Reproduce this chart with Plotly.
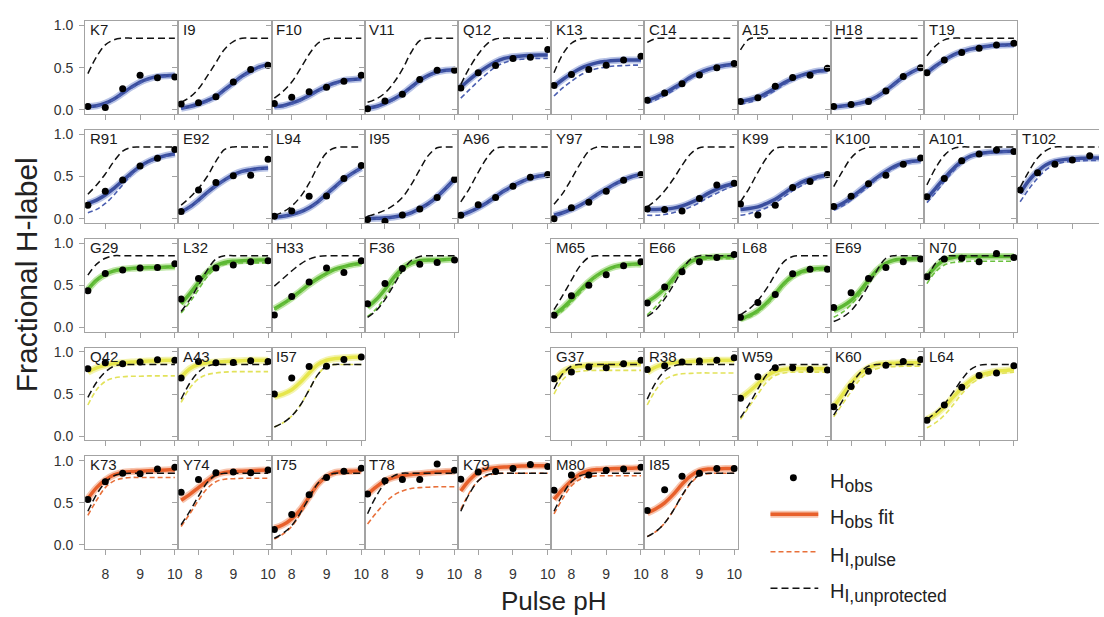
import plotly.graph_objects as go

# ---------------- data ----------------
PH_OBS = [7.5, 8.0, 8.5, 9.0, 9.5, 10.0]
PH_FIT = [7.5, 7.75, 8.0, 8.25, 8.5, 8.75, 9.0, 9.25, 9.5, 9.75, 10.0]

PANEL_ROWS = [
    ["K7", "I9", "F10", "V11", "Q12", "K13", "C14", "A15", "H18", "T19"],
    ["R91", "E92", "L94", "I95", "A96", "Y97", "L98", "K99", "K100", "A101", "T102"],
    ["G29", "L32", "H33", "F36", None, "M65", "E66", "L68", "E69", "N70"],
    ["Q42", "A43", "I57", None, None, "G37", "R38", "W59", "K60", "L64"],
    ["K73", "Y74", "I75", "T78", "K79", "M80", "I85"],
]
ROW_GROUP = ["blue", "blue", "green", "yellow", "orange"]

RESIDUES = ["K7", "I9", "F10", "V11", "Q12", "K13", "C14", "A15", "H18", "T19",
            "R91", "E92", "L94", "I95", "A96", "Y97", "L98", "K99", "K100", "A101", "T102",
            "G29", "L32", "H33", "F36", "M65", "E66", "L68", "E69", "N70",
            "Q42", "A43", "I57", "G37", "R38", "W59", "K60", "L64",
            "K73", "Y74", "I75", "T78", "K79", "M80", "I85"]

H_OBS = [
    [0.04, 0.03, 0.25, 0.41, 0.38, 0.39],
    [0.07, 0.085, 0.155, 0.33, 0.48, 0.53],
    [0.075, 0.15, 0.215, 0.27, 0.34, 0.41],
    [0.015, 0.105, 0.185, 0.36, 0.47, 0.47],
    [0.26, 0.44, 0.525, 0.61, 0.625, 0.715],
    [0.29, 0.42, 0.48, 0.53, 0.59, 0.635],
    [0.115, 0.2, 0.31, 0.415, 0.5, 0.55],
    [0.10, 0.145, 0.28, 0.385, 0.41, 0.495],
    [0.04, 0.065, 0.10, 0.225, 0.395, 0.50],
    [0.44, 0.59, 0.68, 0.73, 0.77, 0.79],
    [0.16, 0.325, 0.457, 0.624, 0.717, 0.82],
    [0.085, 0.34, 0.43, 0.51, 0.515, 0.705],
    [0.03, 0.09, 0.265, 0.27, 0.475, 0.63],
    [-0.01, -0.03, 0.045, 0.115, 0.25, 0.465],
    [0.04, 0.165, 0.25, 0.385, 0.49, 0.525],
    [0.0, 0.13, 0.195, 0.325, 0.455, 0.525],
    [0.115, 0.11, 0.09, 0.24, 0.40, 0.42],
    [0.175, 0.045, 0.16, 0.37, 0.44, 0.525],
    [0.145, 0.265, 0.415, 0.515, 0.645, 0.72],
    [0.26, 0.475, 0.685, 0.765, 0.815, 0.795],
    [0.34, 0.545, 0.645, 0.695, 0.745, 0.75],
    [0.435, 0.64, 0.68, 0.705, 0.71, 0.755],
    [0.337, 0.58, 0.705, 0.74, 0.78, 0.79],
    [0.147, 0.368, 0.54, 0.705, 0.65, 0.79],
    [0.28, 0.52, 0.70, 0.75, 0.77, 0.80],
    [0.145, 0.375, 0.50, 0.625, 0.73, 0.78],
    [0.29, 0.48, 0.66, 0.78, 0.83, 0.865],
    [0.12, 0.295, 0.39, 0.635, 0.69, 0.69],
    [0.235, 0.41, 0.58, 0.71, 0.78, 0.81],
    [0.60, 0.81, 0.82, 0.78, 0.875, 0.83],
    [0.80, 0.87, 0.86, 0.88, 0.905, 0.90],
    [0.69, 0.885, 0.87, 0.875, 0.895, 0.885],
    [0.50, 0.69, 0.825, 0.83, 0.91, 0.94],
    [0.68, 0.76, 0.82, 0.81, 0.86, 0.90],
    [0.79, 0.835, 0.88, 0.89, 0.90, 0.93],
    [0.45, 0.705, 0.81, 0.81, 0.79, 0.785],
    [0.35, 0.59, 0.77, 0.84, 0.885, 0.91],
    [0.19, 0.37, 0.58, 0.72, 0.75, 0.835],
    [0.54, 0.75, 0.85, 0.845, 0.90, 0.92],
    [0.625, 0.775, 0.855, 0.865, 0.855, 0.89],
    [0.185, 0.36, 0.595, 0.80, 0.875, 0.91],
    [0.605, 0.76, 0.775, 0.775, 0.96, 0.885],
    [0.78, 0.865, 0.87, 0.905, 0.955, 0.93],
    [0.65, 0.83, 0.83, 0.885, 0.90, 0.92],
    [0.41, 0.655, 0.815, 0.85, 0.905, 0.905],
]

H_FIT = [
    [0.04, 0.05, 0.08, 0.13, 0.20, 0.27, 0.33, 0.37, 0.395, 0.405, 0.41],
    [0.02, 0.04, 0.07, 0.11, 0.16, 0.24, 0.32, 0.40, 0.46, 0.51, 0.54],
    [0.04, 0.05, 0.08, 0.12, 0.17, 0.23, 0.28, 0.32, 0.35, 0.36, 0.37],
    [0.02, 0.04, 0.08, 0.13, 0.19, 0.27, 0.35, 0.41, 0.45, 0.47, 0.475],
    [0.27, 0.36, 0.44, 0.51, 0.57, 0.61, 0.63, 0.64, 0.645, 0.65, 0.65],
    [0.28, 0.36, 0.43, 0.49, 0.53, 0.56, 0.575, 0.585, 0.59, 0.59, 0.59],
    [0.11, 0.15, 0.20, 0.26, 0.32, 0.39, 0.44, 0.48, 0.51, 0.53, 0.54],
    [0.10, 0.12, 0.15, 0.20, 0.26, 0.32, 0.37, 0.41, 0.44, 0.46, 0.47],
    [0.035, 0.045, 0.06, 0.08, 0.11, 0.16, 0.23, 0.31, 0.39, 0.45, 0.50],
    [0.44, 0.52, 0.59, 0.65, 0.69, 0.72, 0.74, 0.755, 0.765, 0.77, 0.775],
    [0.18, 0.22, 0.28, 0.36, 0.45, 0.54, 0.62, 0.68, 0.72, 0.75, 0.77],
    [0.08, 0.14, 0.22, 0.31, 0.39, 0.46, 0.52, 0.56, 0.58, 0.595, 0.60],
    [0.02, 0.03, 0.05, 0.08, 0.13, 0.20, 0.29, 0.38, 0.47, 0.54, 0.60],
    [0.0, 0.005, 0.01, 0.02, 0.04, 0.07, 0.12, 0.18, 0.26, 0.36, 0.47],
    [0.04, 0.08, 0.13, 0.19, 0.26, 0.33, 0.39, 0.44, 0.48, 0.505, 0.52],
    [0.04, 0.07, 0.11, 0.16, 0.22, 0.29, 0.35, 0.41, 0.46, 0.50, 0.52],
    [0.11, 0.11, 0.115, 0.125, 0.15, 0.19, 0.24, 0.30, 0.35, 0.39, 0.42],
    [0.11, 0.12, 0.14, 0.18, 0.23, 0.30, 0.37, 0.43, 0.47, 0.50, 0.52],
    [0.13, 0.18, 0.25, 0.33, 0.41, 0.49, 0.56, 0.62, 0.66, 0.68, 0.69],
    [0.24, 0.36, 0.48, 0.59, 0.68, 0.74, 0.77, 0.785, 0.79, 0.795, 0.80],
    [0.30, 0.45, 0.56, 0.64, 0.68, 0.70, 0.71, 0.715, 0.72, 0.72, 0.72],
    [0.45, 0.56, 0.63, 0.67, 0.69, 0.70, 0.705, 0.71, 0.71, 0.715, 0.72],
    [0.28, 0.40, 0.53, 0.65, 0.73, 0.77, 0.785, 0.79, 0.795, 0.80, 0.80],
    [0.22, 0.28, 0.35, 0.43, 0.51, 0.58, 0.64, 0.69, 0.72, 0.745, 0.76],
    [0.24, 0.33, 0.45, 0.59, 0.70, 0.76, 0.79, 0.80, 0.80, 0.805, 0.81],
    [0.15, 0.23, 0.33, 0.44, 0.54, 0.62, 0.68, 0.72, 0.74, 0.75, 0.75],
    [0.30, 0.37, 0.46, 0.58, 0.70, 0.78, 0.82, 0.83, 0.835, 0.84, 0.84],
    [0.10, 0.14, 0.20, 0.29, 0.40, 0.52, 0.61, 0.66, 0.69, 0.70, 0.70],
    [0.20, 0.25, 0.32, 0.43, 0.56, 0.68, 0.76, 0.80, 0.81, 0.815, 0.82],
    [0.60, 0.72, 0.80, 0.83, 0.84, 0.84, 0.84, 0.84, 0.84, 0.84, 0.84],
    [0.76, 0.81, 0.84, 0.86, 0.87, 0.88, 0.885, 0.89, 0.895, 0.90, 0.90],
    [0.70, 0.80, 0.85, 0.87, 0.88, 0.885, 0.89, 0.895, 0.90, 0.90, 0.90],
    [0.47, 0.50, 0.55, 0.64, 0.75, 0.85, 0.90, 0.92, 0.93, 0.935, 0.94],
    [0.65, 0.76, 0.81, 0.83, 0.84, 0.845, 0.85, 0.85, 0.855, 0.86, 0.86],
    [0.76, 0.82, 0.855, 0.87, 0.88, 0.885, 0.89, 0.895, 0.90, 0.90, 0.90],
    [0.45, 0.53, 0.62, 0.71, 0.77, 0.79, 0.80, 0.80, 0.80, 0.80, 0.80],
    [0.35, 0.49, 0.63, 0.74, 0.81, 0.85, 0.86, 0.865, 0.87, 0.87, 0.87],
    [0.20, 0.26, 0.35, 0.46, 0.57, 0.66, 0.72, 0.75, 0.77, 0.78, 0.79],
    [0.55, 0.68, 0.77, 0.83, 0.86, 0.87, 0.875, 0.88, 0.885, 0.89, 0.89],
    [0.53, 0.60, 0.68, 0.76, 0.83, 0.86, 0.87, 0.875, 0.88, 0.885, 0.89],
    [0.20, 0.24, 0.31, 0.42, 0.57, 0.72, 0.81, 0.86, 0.87, 0.875, 0.88],
    [0.60, 0.69, 0.76, 0.80, 0.82, 0.835, 0.845, 0.855, 0.865, 0.87, 0.875],
    [0.64, 0.77, 0.86, 0.90, 0.915, 0.925, 0.93, 0.935, 0.94, 0.94, 0.94],
    [0.54, 0.66, 0.76, 0.84, 0.88, 0.895, 0.90, 0.905, 0.91, 0.91, 0.915],
    [0.38, 0.43, 0.50, 0.60, 0.72, 0.82, 0.88, 0.90, 0.90, 0.905, 0.905],
]

H_PULSE = [
    [0.035, 0.045, 0.075, 0.125, 0.19, 0.26, 0.32, 0.36, 0.385, 0.395, 0.40],
    [0.015, 0.035, 0.06, 0.10, 0.15, 0.23, 0.31, 0.39, 0.45, 0.50, 0.53],
    [0.03, 0.04, 0.07, 0.11, 0.16, 0.22, 0.27, 0.31, 0.34, 0.355, 0.365],
    [0.015, 0.035, 0.07, 0.12, 0.18, 0.26, 0.34, 0.40, 0.44, 0.46, 0.47],
    [0.14, 0.24, 0.34, 0.43, 0.51, 0.56, 0.59, 0.60, 0.61, 0.61, 0.61],
    [0.165, 0.26, 0.34, 0.41, 0.46, 0.49, 0.51, 0.52, 0.525, 0.53, 0.53],
    [0.08, 0.12, 0.17, 0.23, 0.30, 0.37, 0.43, 0.47, 0.50, 0.52, 0.53],
    [0.07, 0.09, 0.12, 0.17, 0.23, 0.30, 0.35, 0.40, 0.43, 0.45, 0.46],
    [0.03, 0.04, 0.055, 0.075, 0.105, 0.155, 0.225, 0.305, 0.385, 0.445, 0.495],
    [0.43, 0.51, 0.58, 0.64, 0.68, 0.71, 0.73, 0.745, 0.755, 0.76, 0.765],
    [0.07, 0.11, 0.18, 0.28, 0.40, 0.52, 0.61, 0.67, 0.71, 0.74, 0.76],
    [0.075, 0.135, 0.215, 0.305, 0.385, 0.455, 0.515, 0.555, 0.575, 0.59, 0.595],
    [0.015, 0.025, 0.045, 0.075, 0.125, 0.195, 0.285, 0.375, 0.465, 0.535, 0.595],
    [-0.005, 0.0, 0.005, 0.015, 0.035, 0.065, 0.115, 0.175, 0.255, 0.355, 0.465],
    [0.035, 0.075, 0.125, 0.185, 0.255, 0.325, 0.385, 0.435, 0.475, 0.50, 0.515],
    [0.035, 0.065, 0.105, 0.155, 0.215, 0.285, 0.345, 0.405, 0.455, 0.495, 0.515],
    [0.04, 0.04, 0.05, 0.07, 0.10, 0.14, 0.19, 0.25, 0.30, 0.35, 0.39],
    [0.04, 0.06, 0.09, 0.13, 0.19, 0.26, 0.33, 0.39, 0.44, 0.48, 0.50],
    [0.10, 0.15, 0.22, 0.30, 0.38, 0.47, 0.54, 0.60, 0.64, 0.67, 0.68],
    [0.19, 0.31, 0.44, 0.56, 0.66, 0.73, 0.76, 0.775, 0.785, 0.79, 0.79],
    [0.20, 0.35, 0.48, 0.58, 0.64, 0.67, 0.68, 0.685, 0.69, 0.69, 0.69],
    [0.44, 0.55, 0.62, 0.66, 0.68, 0.69, 0.695, 0.70, 0.70, 0.705, 0.71],
    [0.17, 0.30, 0.45, 0.60, 0.70, 0.745, 0.76, 0.765, 0.765, 0.765, 0.765],
    [0.21, 0.27, 0.34, 0.42, 0.50, 0.57, 0.63, 0.68, 0.71, 0.735, 0.75],
    [0.13, 0.22, 0.36, 0.53, 0.67, 0.75, 0.78, 0.79, 0.795, 0.80, 0.80],
    [0.12, 0.20, 0.30, 0.41, 0.52, 0.61, 0.67, 0.71, 0.73, 0.74, 0.74],
    [0.15, 0.25, 0.38, 0.55, 0.69, 0.77, 0.80, 0.81, 0.815, 0.815, 0.815],
    [0.08, 0.12, 0.18, 0.27, 0.38, 0.50, 0.59, 0.64, 0.67, 0.68, 0.68],
    [0.12, 0.18, 0.27, 0.39, 0.53, 0.66, 0.75, 0.79, 0.80, 0.805, 0.81],
    [0.52, 0.66, 0.74, 0.77, 0.78, 0.785, 0.785, 0.785, 0.785, 0.785, 0.785],
    [0.37, 0.55, 0.65, 0.69, 0.705, 0.71, 0.71, 0.715, 0.715, 0.715, 0.715],
    [0.40, 0.57, 0.68, 0.73, 0.75, 0.76, 0.765, 0.765, 0.765, 0.765, 0.765],
    [0.11, 0.16, 0.24, 0.37, 0.55, 0.73, 0.83, 0.85, 0.85, 0.85, 0.85],
    [0.50, 0.67, 0.75, 0.77, 0.78, 0.78, 0.78, 0.78, 0.78, 0.78, 0.78],
    [0.37, 0.55, 0.67, 0.72, 0.74, 0.745, 0.75, 0.75, 0.75, 0.75, 0.75],
    [0.20, 0.35, 0.50, 0.64, 0.72, 0.75, 0.76, 0.76, 0.76, 0.76, 0.76],
    [0.23, 0.38, 0.53, 0.67, 0.76, 0.80, 0.82, 0.825, 0.83, 0.83, 0.83],
    [0.10, 0.16, 0.25, 0.37, 0.50, 0.61, 0.68, 0.72, 0.74, 0.75, 0.76],
    [0.35, 0.53, 0.68, 0.76, 0.79, 0.80, 0.80, 0.80, 0.80, 0.80, 0.80],
    [0.22, 0.37, 0.53, 0.67, 0.75, 0.78, 0.785, 0.79, 0.79, 0.79, 0.79],
    [0.07, 0.13, 0.22, 0.37, 0.55, 0.72, 0.81, 0.84, 0.85, 0.85, 0.85],
    [0.25, 0.38, 0.50, 0.59, 0.64, 0.67, 0.68, 0.685, 0.69, 0.69, 0.69],
    [0.42, 0.62, 0.76, 0.82, 0.845, 0.85, 0.85, 0.85, 0.85, 0.85, 0.85],
    [0.37, 0.55, 0.70, 0.78, 0.81, 0.82, 0.82, 0.82, 0.82, 0.82, 0.82],
    [0.10, 0.16, 0.26, 0.41, 0.58, 0.73, 0.82, 0.845, 0.85, 0.85, 0.85],
]

H_UNPROT = [
    [0.43, 0.63, 0.77, 0.83, 0.85, 0.85, 0.85, 0.85, 0.85, 0.85, 0.85],
    [0.09, 0.15, 0.25, 0.40, 0.56, 0.72, 0.81, 0.85, 0.85, 0.85, 0.85],
    [0.14, 0.22, 0.33, 0.49, 0.66, 0.79, 0.845, 0.85, 0.85, 0.85, 0.85],
    [0.09, 0.13, 0.20, 0.32, 0.48, 0.68, 0.82, 0.85, 0.85, 0.85, 0.85],
    [0.30, 0.50, 0.66, 0.78, 0.84, 0.85, 0.85, 0.85, 0.85, 0.85, 0.85],
    [0.44, 0.66, 0.79, 0.84, 0.85, 0.85, 0.85, 0.85, 0.85, 0.85, 0.85],
    [0.80, 0.845, 0.85, 0.85, 0.85, 0.85, 0.85, 0.85, 0.85, 0.85, 0.85],
    [0.71, 0.84, 0.85, 0.85, 0.85, 0.85, 0.85, 0.85, 0.85, 0.85, 0.85],
    [0.85, 0.85, 0.85, 0.85, 0.85, 0.85, 0.85, 0.85, 0.85, 0.85, 0.85],
    [0.64, 0.76, 0.83, 0.85, 0.85, 0.85, 0.85, 0.85, 0.85, 0.85, 0.85],
    [0.29, 0.40, 0.53, 0.68, 0.80, 0.845, 0.85, 0.85, 0.85, 0.85, 0.85],
    [0.16, 0.25, 0.36, 0.50, 0.68, 0.82, 0.85, 0.85, 0.85, 0.85, 0.85],
    [0.04, 0.08, 0.15, 0.26, 0.42, 0.62, 0.78, 0.84, 0.85, 0.85, 0.85],
    [0.03, 0.06, 0.10, 0.16, 0.25, 0.40, 0.58, 0.75, 0.84, 0.85, 0.85],
    [0.20, 0.36, 0.55, 0.72, 0.83, 0.85, 0.85, 0.85, 0.85, 0.85, 0.85],
    [0.17, 0.30, 0.47, 0.65, 0.80, 0.85, 0.85, 0.85, 0.85, 0.85, 0.85],
    [0.14, 0.22, 0.33, 0.47, 0.63, 0.77, 0.84, 0.85, 0.85, 0.85, 0.85],
    [0.20, 0.36, 0.55, 0.72, 0.83, 0.85, 0.85, 0.85, 0.85, 0.85, 0.85],
    [0.38, 0.56, 0.72, 0.81, 0.845, 0.85, 0.85, 0.85, 0.85, 0.85, 0.85],
    [0.40, 0.60, 0.75, 0.83, 0.85, 0.85, 0.85, 0.85, 0.85, 0.85, 0.85],
    [0.37, 0.56, 0.72, 0.81, 0.85, 0.85, 0.85, 0.85, 0.85, 0.85, 0.85],
    [0.62, 0.75, 0.82, 0.85, 0.85, 0.85, 0.85, 0.85, 0.85, 0.85, 0.85],
    [0.19, 0.33, 0.50, 0.68, 0.81, 0.85, 0.85, 0.85, 0.85, 0.85, 0.85],
    [0.49, 0.58, 0.67, 0.75, 0.81, 0.84, 0.85, 0.85, 0.85, 0.85, 0.85],
    [0.12, 0.20, 0.33, 0.50, 0.67, 0.79, 0.84, 0.85, 0.85, 0.85, 0.85],
    [0.21, 0.38, 0.56, 0.73, 0.83, 0.85, 0.85, 0.85, 0.85, 0.85, 0.85],
    [0.13, 0.21, 0.34, 0.50, 0.68, 0.81, 0.85, 0.85, 0.85, 0.85, 0.85],
    [0.15, 0.22, 0.32, 0.46, 0.63, 0.78, 0.84, 0.85, 0.85, 0.85, 0.85],
    [0.07, 0.12, 0.20, 0.33, 0.50, 0.68, 0.82, 0.85, 0.85, 0.85, 0.85],
    [0.58, 0.76, 0.84, 0.85, 0.85, 0.85, 0.85, 0.85, 0.85, 0.85, 0.85],
    [0.46, 0.64, 0.76, 0.83, 0.85, 0.85, 0.85, 0.85, 0.85, 0.85, 0.85],
    [0.44, 0.63, 0.76, 0.83, 0.85, 0.85, 0.85, 0.85, 0.85, 0.85, 0.85],
    [0.11, 0.16, 0.24, 0.37, 0.55, 0.73, 0.83, 0.85, 0.85, 0.85, 0.85],
    [0.56, 0.74, 0.83, 0.85, 0.85, 0.85, 0.85, 0.85, 0.85, 0.85, 0.85],
    [0.44, 0.64, 0.77, 0.83, 0.85, 0.85, 0.85, 0.85, 0.85, 0.85, 0.85],
    [0.22, 0.38, 0.56, 0.73, 0.83, 0.85, 0.85, 0.85, 0.85, 0.85, 0.85],
    [0.25, 0.42, 0.60, 0.75, 0.83, 0.85, 0.85, 0.85, 0.85, 0.85, 0.85],
    [0.20, 0.28, 0.38, 0.52, 0.67, 0.79, 0.84, 0.85, 0.85, 0.85, 0.85],
    [0.40, 0.60, 0.74, 0.82, 0.845, 0.85, 0.85, 0.85, 0.85, 0.85, 0.85],
    [0.24, 0.40, 0.58, 0.74, 0.83, 0.85, 0.85, 0.85, 0.85, 0.85, 0.85],
    [0.08, 0.14, 0.23, 0.38, 0.56, 0.73, 0.82, 0.85, 0.85, 0.85, 0.85],
    [0.37, 0.58, 0.73, 0.82, 0.85, 0.85, 0.85, 0.85, 0.85, 0.85, 0.85],
    [0.40, 0.61, 0.76, 0.83, 0.85, 0.85, 0.85, 0.85, 0.85, 0.85, 0.85],
    [0.40, 0.60, 0.75, 0.82, 0.845, 0.85, 0.85, 0.85, 0.85, 0.85, 0.85],
    [0.10, 0.16, 0.26, 0.41, 0.59, 0.74, 0.83, 0.85, 0.85, 0.85, 0.85],
]

X_TICKS = [8, 9, 10]
Y_TICKS = [0, 0.5, 1.0]
Y_TICK_TEXT = ["0.0", "0.5", "1.0"]

# ---------------- styling ----------------
GROUP_STYLE = {
    "blue":   dict(fit="#3a4e9e", halo="rgba(125,145,210,0.55)", pulse="#4a5eb0"),
    "green":  dict(fit="#5cb833", halo="rgba(150,215,110,0.6)", pulse="#6cc040"),
    "yellow": dict(fit="#e6e64c", halo="rgba(240,240,140,0.7)", pulse="#e2e25a"),
    "orange": dict(fit="#e8602b", halo="rgba(240,150,110,0.55)", pulse="#e8703a"),
}
FONT = "Liberation Sans, Arial, Helvetica, sans-serif"
FRAME = "#a3a3a3"

W, H = 1104, 617
X_LEFT = 85.5
PANEL_W = 93.65
Y_ONE_ROW0 = 21.8
ROW_PITCH = 110.2
PX_PER_UNIT_Y = 85.5
X_RANGE = [7.42, 10.1]
Y_RANGE = [-0.05, 1.05]

fig = go.Figure()
layout = {}
annotations = []
idx = {name: i for i, name in enumerate(RESIDUES)}

n = 0
for r, row in enumerate(PANEL_ROWS):
    style = GROUP_STYLE[ROW_GROUP[r]]
    for c, name in enumerate(row):
        if name is None:
            continue
        n += 1
        i = idx[name]
        xa = "x" if n == 1 else f"x{n}"
        ya = "y" if n == 1 else f"y{n}"
        left = X_LEFT + c * PANEL_W
        right = left + PANEL_W
        top = Y_ONE_ROW0 + r * ROW_PITCH - (Y_RANGE[1] - 1.0) * PX_PER_UNIT_Y
        bottom = top + (Y_RANGE[1] - Y_RANGE[0]) * PX_PER_UNIT_Y
        xr = list(X_RANGE)
        cut = right > W
        if cut:
            xr[1] = X_RANGE[0] + (W - left) / PANEL_W * (X_RANGE[1] - X_RANGE[0])
            right = W
        layout["xaxis" if n == 1 else f"xaxis{n}"] = dict(
            domain=[left / W, right / W], anchor=ya, range=xr,
            showline=True, linecolor=FRAME, linewidth=1, mirror=True,
            ticks="outside", ticklen=5, tickcolor=FRAME, tickwidth=1,
            tickvals=X_TICKS, showticklabels=(r == len(PANEL_ROWS) - 1),
            ticklabelstandoff=7,
            tickfont=dict(family=FONT, size=14, color="#333333"),
            showgrid=False, zeroline=False, fixedrange=True)
        layout["yaxis" if n == 1 else f"yaxis{n}"] = dict(
            domain=[1 - bottom / H, 1 - top / H], anchor=xa, range=Y_RANGE,
            showline=True, linecolor=FRAME, linewidth=1, mirror=(not cut),
            ticks="outside", ticklen=5, tickcolor=FRAME, tickwidth=1,
            tickvals=Y_TICKS, ticktext=Y_TICK_TEXT, showticklabels=(c == 0),
            ticklabelstandoff=3,
            tickfont=dict(family=FONT, size=14, color="#333333"),
            showgrid=False, zeroline=False, fixedrange=True)

        fig.add_trace(go.Scatter(x=PH_FIT, y=H_FIT[i], xaxis=xa, yaxis=ya, mode="lines",
                                 line=dict(color=style["halo"], width=7, shape="spline"),
                                 showlegend=False, hoverinfo="skip"))
        fig.add_trace(go.Scatter(x=PH_FIT, y=H_FIT[i], xaxis=xa, yaxis=ya, mode="lines",
                                 line=dict(color=style["fit"], width=3.5, shape="spline"),
                                 showlegend=False))
        fig.add_trace(go.Scatter(x=PH_FIT, y=H_PULSE[i], xaxis=xa, yaxis=ya, mode="lines",
                                 line=dict(color=style["pulse"], width=1.6, dash="5px,3px", shape="spline"),
                                 showlegend=False))
        fig.add_trace(go.Scatter(x=PH_FIT, y=H_UNPROT[i], xaxis=xa, yaxis=ya, mode="lines",
                                 line=dict(color="#111111", width=1.5, dash="7px,4px", shape="spline"),
                                 showlegend=False))
        fig.add_trace(go.Scatter(x=PH_OBS, y=H_OBS[i], xaxis=xa, yaxis=ya, mode="markers",
                                 marker=dict(color="#000000", size=7, line=dict(width=0)),
                                 showlegend=False))
        annotations.append(dict(
            xref=f"{xa} domain", yref=f"{ya} domain", x=2.5 / PANEL_W, y=1.0,
            yshift=2, xanchor="left", yanchor="top", text=name, showarrow=False,
            font=dict(family=FONT, size=15, color="#1a1a1a")))

# axis titles
annotations.append(dict(xref="paper", yref="paper", x=557 / W, y=1 - 605 / H,
                        text="Pulse pH", showarrow=False, xanchor="center", yanchor="middle",
                        font=dict(family=FONT, size=26, color="#222222")))
annotations.append(dict(xref="paper", yref="paper", x=27 / W, y=1 - 274 / H,
                        text="Fractional H-label", showarrow=False, textangle=-90,
                        xanchor="center", yanchor="middle",
                        font=dict(family=FONT, size=30, color="#222222")))

# legend (drawn as key glyphs + labels)
orange = GROUP_STYLE["orange"]
LEG_ROWS_Y = [480, 517, 555, 592]
SUB = "<sub><span style='font-size:17.5px'>{}</span></sub>"
LEG_LABELS = ["H" + SUB.format("obs"), "H" + SUB.format("obs") + " fit",
              "H" + SUB.format("I,pulse"), "H" + SUB.format("I,unprotected")]
shapes = []
gx0, gx1 = 774, 822
def px(x):
    return x / W
def py(y):
    return 1 - y / H
shapes.append(dict(type="circle", xref="paper", yref="paper",
                   x0=px(797 - 3.5), x1=px(797 + 3.5), y0=py(LEG_ROWS_Y[0] + 3.5), y1=py(LEG_ROWS_Y[0] - 3.5),
                   fillcolor="#000000", line=dict(width=0)))
shapes.append(dict(type="line", xref="paper", yref="paper", x0=px(gx0), x1=px(gx1),
                   y0=py(LEG_ROWS_Y[1]), y1=py(LEG_ROWS_Y[1]), line=dict(color=orange["halo"], width=7)))
shapes.append(dict(type="line", xref="paper", yref="paper", x0=px(gx0), x1=px(gx1),
                   y0=py(LEG_ROWS_Y[1]), y1=py(LEG_ROWS_Y[1]), line=dict(color=orange["fit"], width=3.5)))
shapes.append(dict(type="line", xref="paper", yref="paper", x0=px(gx0), x1=px(gx1),
                   y0=py(LEG_ROWS_Y[2]), y1=py(LEG_ROWS_Y[2]),
                   line=dict(color=orange["pulse"], width=1.6, dash="5px,3px")))
shapes.append(dict(type="line", xref="paper", yref="paper", x0=px(gx0), x1=px(gx1),
                   y0=py(LEG_ROWS_Y[3]), y1=py(LEG_ROWS_Y[3]),
                   line=dict(color="#111111", width=1.6, dash="7px,4px")))
for yv, lab in zip(LEG_ROWS_Y, LEG_LABELS):
    annotations.append(dict(xref="paper", yref="paper", x=px(832), y=py(yv + 5),
                            text=lab, showarrow=False, xanchor="left", yanchor="middle",
                            font=dict(family=FONT, size=20, color="#222222")))

fig.update_layout(
    width=W, height=H, margin=dict(l=0, r=0, t=0, b=0),
    paper_bgcolor="white", plot_bgcolor="white",
    showlegend=False, annotations=annotations, shapes=shapes,
    **layout)

fig.write_html("out.html")
